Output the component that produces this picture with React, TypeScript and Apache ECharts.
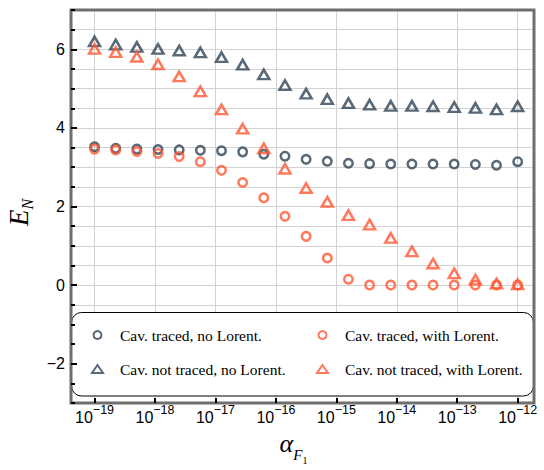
import React, { useEffect, useRef } from 'react';
import * as echarts from 'echarts';

// log10(alpha_F1) of each sample
const alphaExp = [-19, -18.65, -18.3, -17.95, -17.6, -17.25, -16.9, -16.55, -16.2, -15.85, -15.5, -15.15, -14.8, -14.45, -14.1, -13.75, -13.4, -13.05, -12.7, -12.35, -12];

const tracedNoLorentz = [3.52, 3.48, 3.46, 3.45, 3.44, 3.43, 3.42, 3.39, 3.33, 3.28, 3.2, 3.15, 3.1, 3.09, 3.08, 3.08, 3.08, 3.08, 3.07, 3.05, 3.14];
const tracedWithLorentz = [3.46, 3.44, 3.4, 3.35, 3.27, 3.14, 2.92, 2.61, 2.22, 1.75, 1.24, 0.69, 0.15, 0, 0, 0, 0, 0, 0, 0, 0];
const notTracedNoLorentz = [6.2, 6.12, 6.06, 6.01, 5.97, 5.92, 5.8, 5.61, 5.36, 5.09, 4.87, 4.73, 4.63, 4.59, 4.56, 4.56, 4.55, 4.53, 4.51, 4.47, 4.55];
const notTracedWithLorentz = [6.01, 5.93, 5.81, 5.62, 5.31, 4.93, 4.47, 3.98, 3.48, 2.96, 2.47, 2.12, 1.78, 1.54, 1.2, 0.86, 0.55, 0.3, 0.14, 0.04, 0.02];

const nameTracedNoL = 'Cav. traced, no Lorent.';
const nameTracedWithL = 'Cav. traced, with Lorent.';
const nameNotTracedNoL = 'Cav. not traced, no Lorent.';
const nameNotTracedWithL = 'Cav. not traced, with Lorent.';

const xTickExp = [-19, -18, -17, -16, -15, -14, -13, -12];
const yTickLabels = [-2, 0, 2, 4, 6];

const X_MIN = -19.39;
const X_MAX = -11.73;
const Y_MIN = -3;
const Y_MAX = 7;

const DARK = '#2f4356';
const ORANGE = '#FF5733';
const GRID = '#d2d2d2';
const FRAME = '#6e6e6e';

const GL = 71, GT = 10, GW = 463, GH = 393;

export default function App() {
  const ref = useRef<HTMLDivElement>(null);
  useEffect(() => {
    document.body.style.margin = '0';
    const chart = echarts.init(ref.current!, null, { renderer: 'svg' });
    const pts = (ys: number[]) => alphaExp.map((x, i) => [x, ys[i]]);
    const mk = (name: string, ys: number[], symbol: string, size: any, color: string) => ({
      name,
      type: 'scatter',
      xAxisIndex: 0,
      yAxisIndex: 0,
      symbol,
      symbolSize: size,
      itemStyle: { color: 'rgba(0,0,0,0)', borderColor: color, borderWidth: 2.5 },
      data: pts(ys),
      z: 2,
    });
    const sans = '"Liberation Sans", Arial, sans-serif';
    const serif = '"Liberation Serif", "Times New Roman", serif';
    const legendCommon = {
      orient: 'vertical',
      padding: 0,
      itemWidth: 11,
      itemHeight: 8,
      itemGap: 16,
      selectedMode: false,
      z: 6,
      formatter: '{g| }{name}',
      textStyle: {
        fontFamily: serif,
        fontSize: 15.5,
        lineHeight: 18,
        color: '#000',
        rich: { g: { width: 12 } },
      },
    };
    const noLine = { show: false, onZero: false };
    chart.setOption({
      animation: false,
      backgroundColor: '#fff',
      grid: { left: GL, top: GT, width: GW, height: GH, outerBoundsMode: 'none', containLabel: false },
      legend: [
        { ...legendCommon, left: 91, top: 326, data: [nameTracedNoL, nameNotTracedNoL] },
        { ...legendCommon, left: 316, top: 326, data: [nameTracedWithL, nameNotTracedWithL] },
      ],
      xAxis: [
        {
          type: 'value', min: X_MIN, max: X_MAX, minInterval: 1, maxInterval: 1, z: 0,
          position: 'bottom',
          axisLine: noLine, axisTick: { show: false }, axisLabel: { show: false },
          splitLine: { show: true, lineStyle: { color: GRID, width: 1 } },
        },
        {
          type: 'value', min: X_MIN, max: X_MAX, minInterval: 1, maxInterval: 1, z: 5,
          position: 'bottom',
          offset: 0,
          axisLine: noLine,
          splitLine: { show: false },
          axisTick: { show: true, inside: true, length: 5, customValues: xTickExp, lineStyle: { color: '#000', width: 2 } },
          axisLabel: {
            customValues: xTickExp,
            margin: 0,
            formatter: (v: number) => `{b|10}{s|−${Math.abs(Math.round(v))}}`,
            rich: {
              b: { fontFamily: sans, fontSize: 16, color: '#000' },
              s: { fontFamily: sans, fontSize: 12.5, color: '#000', padding: [0, 0, 16, 0] },
            },
          },
          name: '{a|α}{f|F}{o|1}',
          nameLocation: 'middle',
          nameGap: 15,
          nameTextStyle: {
            padding: [0, 18, 0, 0],
            rich: {
              a: { fontFamily: serif, fontStyle: 'italic', fontSize: 26, color: '#000' },
              f: { fontFamily: serif, fontStyle: 'italic', fontSize: 15, color: '#000', padding: [24, 0, 0, 0] },
              o: { fontFamily: serif, fontSize: 10, color: '#000', padding: [34, 0, 0, 0] },
            },
          },
        },
      ],
      yAxis: [
        {
          type: 'value', min: Y_MIN, max: Y_MAX, interval: 0.5, z: 0,
          position: 'left',
          axisLine: noLine, axisTick: { show: false }, axisLabel: { show: false },
          splitLine: { show: true, lineStyle: { color: GRID, width: 1 } },
        },
        {
          type: 'value', min: Y_MIN, max: Y_MAX, interval: 0.5, z: 5,
          position: 'left',
          offset: 0,
          axisLine: noLine,
          splitLine: { show: false },
          axisTick: { show: true, inside: true, length: 4, lineStyle: { color: '#000', width: 2 } },
          axisLabel: {
            customValues: yTickLabels,
            margin: 6,
            fontFamily: sans,
            fontSize: 16,
            color: '#000',
            formatter: (v: number) => (v < 0 ? '−' + Math.abs(v) : String(v)),
          },
          name: '{e|E}{n|N}',
          nameLocation: 'middle',
          nameRotate: 90,
          nameGap: 18,
          nameTextStyle: {
            padding: [0, 12, 0, 0],
            rich: {
              e: { fontFamily: serif, fontStyle: 'italic', fontSize: 27, color: '#000' },
              n: { fontFamily: serif, fontStyle: 'italic', fontSize: 16, color: '#000', padding: [17, 0, 0, 0] },
            },
          },
        },
        {
          type: 'value', min: Y_MIN, max: Y_MAX, interval: 0.5, z: 5,
          position: 'left',
          offset: 0,
          axisLine: noLine,
          splitLine: { show: false },
          axisLabel: { show: false },
          axisTick: { show: true, inside: true, length: 6, customValues: yTickLabels, lineStyle: { color: '#000', width: 2 } },
        },
      ],
      graphic: [
        {
          type: 'rect', z: 3, silent: true,
          shape: { x: 71.5, y: 312.5, width: 462, height: 83.5, r: 10 },
          style: { fill: '#fff', stroke: '#000', lineWidth: 1 },
        },
        {
          type: 'rect', z: 4, silent: true,
          shape: { x: GL, y: GT, width: GW, height: GH },
          style: { fill: 'none', stroke: FRAME, lineWidth: 3 },
        },
      ],
      series: [
        mk(nameTracedNoL, tracedNoLorentz, 'circle', 8.5, DARK),
        mk(nameNotTracedNoL, notTracedNoLorentz, 'triangle', [11, 9.5], DARK),
        mk(nameTracedWithL, tracedWithLorentz, 'circle', 8.5, ORANGE),
        mk(nameNotTracedWithL, notTracedWithLorentz, 'triangle', [11, 9.5], ORANGE),
      ],
    });
    return () => chart.dispose();
  }, []);
  return <div ref={ref} style={{ width: 544, height: 470 }} />;
}
